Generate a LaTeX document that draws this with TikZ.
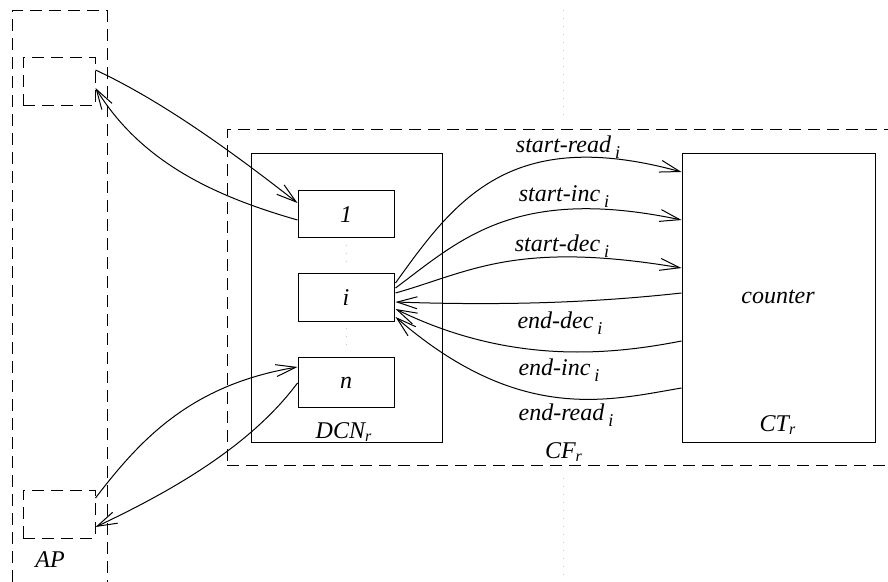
\documentclass[tikz,border=0pt]{standalone}
\usepackage{fontspec}
\setmainfont{Liberation Serif}
\usetikzlibrary{arrows.meta,calc}
\newcommand{\lowsub}[1]{\raisebox{-3pt}{\fontsize{9}{9}\selectfont #1}}
\begin{document}
\begin{tikzpicture}[x=0.5pt,y=-0.5pt,
  lbl/.style={font=\fontsize{12}{14}\selectfont\itshape, inner sep=0pt},
  solidbox/.style={draw, line width=0.5pt, rectangle, inner sep=0pt},
  dashbox/.style={draw, line width=0.5pt, rectangle, inner sep=0pt, dash pattern=on 6pt off 3.5pt},
  faint/.style={draw=black!22, line width=0.5pt, dash pattern=on 0.5pt off 3.5pt},
  conn/.style={line width=0.5pt, -{Straight Barb[length=10pt,width=6pt,line width=0.5pt]}}]
\useasboundingbox (0,0) rectangle (888,582);
\clip (0,0) rectangle (888,582);
% faint guide lines
\coordinate (g1) at (563,10);
\coordinate (g2) at (563,118);
\coordinate (g3) at (563,478);
\coordinate (g4) at (563,580);
\draw[faint] (g1) -- (g2);
\draw[faint] (g3) -- (g4);
% AP column
\node[dashbox, minimum width=47.5pt, minimum height=300pt] (ap) at (59.5,311) {};
\node[dashbox, minimum width=36pt, minimum height=24pt] (apTop) at (59,82) {};
\node[dashbox, minimum width=36pt, minimum height=24pt] (apBot) at (59,514) {};
\node[lbl] (aplbl) at (50,560) {AP};
% CF region
\node[dashbox, minimum width=340pt, minimum height=167.5pt] (cf) at (567,297.5) {};
\node[lbl] (cflbl) at (564,452) {CF\textsubscript{r}};
% DCN
\node[solidbox, minimum width=95.5pt, minimum height=144pt] (dcn) at (346.5,298) {};
\node[lbl] (dcnlbl) at (344,432) {DCN\textsubscript{r}};
\node[solidbox, minimum width=48pt, minimum height=23.5pt] (d1) at (346,214.5) {\fontsize{12}{14}\selectfont\itshape 1};
\node[solidbox, minimum width=48pt, minimum height=24pt] (di) at (346,298) {\fontsize{12}{14}\selectfont\itshape i};
\node[solidbox, minimum width=48pt, minimum height=24.5pt] (dn) at (346,382.5) {\fontsize{12}{14}\selectfont\itshape n};
\draw[faint] ($(d1.south)+(0,7)$) -- ($(di.north)+(0,-10)$);
\draw[faint] ($(di.south)+(0,6)$) -- ($(dn.north)+(0,-10)$);
% CT
\node[solidbox, minimum width=96.5pt, minimum height=144pt] (ct) at (778.5,298) {};
\node[lbl] (ctr) at (778,297) {counter};
\node[lbl] (ctlbl) at (778,425) {CT\textsubscript{r}};
% AP <-> DCN
\draw[conn] ($(apTop.east)+(0,-12)$) .. controls (160,100) and (230,150) .. ($(d1.west)+(0,-11.5)$);
\draw[conn] ($(d1.west)+(0,5.5)$) .. controls (210,195) and (140,160) .. ($(apTop.east)+(0,6)$);
\draw[conn] ($(apBot.east)+(0,-16)$) .. controls (140,440) and (190,385) .. ($(dn.west)+(0,-15.5)$);
\draw[conn] ($(dn.west)+(0,0.5)$) .. controls (255,440) and (185,485) .. ($(apBot.east)+(0,13)$);
% DCN <-> CT
\draw[conn] ($(di.east)+(1,-15)$) .. controls (455,200) and (510,125) .. ($(ct.west)+(0,-126)$);
\draw[conn] ($(di.east)+(1,-10)$) .. controls (460,240) and (515,185) .. ($(ct.west)+(0,-78)$);
\draw[conn] ($(di.east)+(1,-5)$) .. controls (470,272) and (515,240) .. ($(ct.west)+(0,-30)$);
\draw[conn] ($(ct.west)+(0,-5)$) .. controls (600,302) and (510,306) .. ($(di.east)+(1,4)$);
\draw[conn] ($(ct.west)+(0,43)$) .. controls (610,355) and (510,365) .. ($(di.east)+(1,11)$);
\draw[conn] ($(ct.west)+(0,90)$) .. controls (610,400) and (520,425) .. ($(di.east)+(1,19)$);
% labels
\node[lbl] (l1) at (568,147) {start-read\,\lowsub{i}};
\node[lbl] (l2) at (564,197) {start-inc\,\lowsub{i}};
\node[lbl] (l3) at (562,246) {start-dec\,\lowsub{i}};
\node[lbl] (l4) at (560,323) {end-dec\,\lowsub{i}};
\node[lbl] (l5) at (559,370) {end-inc\,\lowsub{i}};
\node[lbl] (l6) at (566,415) {end-read\,\lowsub{i}};
\end{tikzpicture}
\end{document}
